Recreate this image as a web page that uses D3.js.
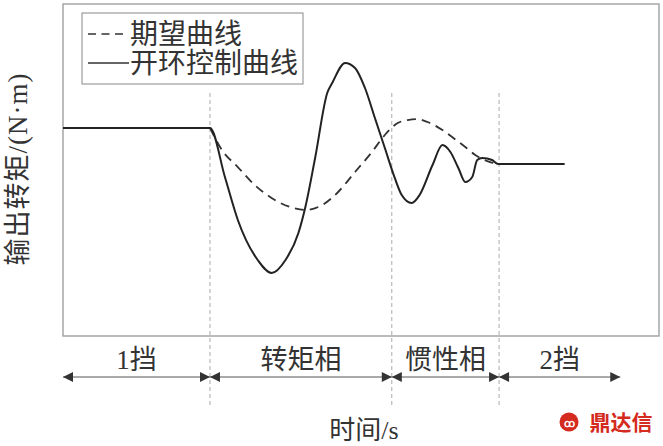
<!DOCTYPE html>
<html><head><meta charset="utf-8">
<script src="https://cdn.jsdelivr.net/npm/d3@7"></script>
<style>body{margin:0;background:#fff}svg{display:block}</style>
</head><body><svg id="c" width="663" height="446"></svg>
<script>
// ---- data (time in s, torque in N·m) ----
const controlT = [0, 1.48, 1.63, 1.76, 1.96, 2.10, 2.24, 2.37, 2.44, 2.54, 2.66, 2.71, 2.84, 2.94, 3.04, 3.14, 3.24, 3.34, 3.41, 3.51, 3.59, 3.72, 3.82, 3.90, 3.98, 4.05, 4.12, 4.17, 4.22, 4.32, 4.38, 5.05];
const controlV = [250.6, 250.6, 191.6, 139.8, 91.6, 75.9, 91.6, 124.1, 155.4, 215.7, 292.8, 304.8, 328.9, 322.9, 298.8, 262.7, 226.5, 190.4, 169.9, 160.2, 169.9, 206.0, 230.1, 221.7, 202.4, 185.5, 191.6, 212.0, 214.5, 212.0, 207.2, 207.2];
const desiredT = [1.48, 1.60, 1.76, 1.93, 2.10, 2.32, 2.44, 2.61, 2.77, 2.94, 3.11, 3.24, 3.37, 3.47, 3.56, 3.67, 3.82, 3.93, 4.05, 4.15, 4.20, 4.30, 4.38];
const desiredV = [250.6, 224.1, 203.6, 181.9, 166.3, 154.2, 151.8, 157.8, 173.5, 197.6, 221.7, 242.2, 256.6, 260.2, 261.4, 257.8, 248.2, 238.6, 227.7, 218.1, 214.5, 209.6, 207.2];
const phaseNames = ["1挡", "转矩相", "惯性相", "2挡"];
const phaseBounds = [0, 1.48, 3.31, 4.39, 5.61];
const legendLabels = ["期望曲线", "开环控制曲线"];
const xTitle = "时间/s";
const yTitle = "输出转矩/(N·m)";

const svg = d3.select("#c");
const font = "'Liberation Serif','Noto Sans CJK SC',serif";
const ink = "#333";
const x = d3.scaleLinear().domain([0, 6]).range([63, 659]);
const y = d3.scaleLinear().domain([0, 400]).range([336, 4]);

// frame
svg.append("rect").attr("x", x(0)).attr("y", y(400))
  .attr("width", x(6) - x(0)).attr("height", y(0) - y(400))
  .attr("fill", "none").attr("stroke", "#a0a0a0").attr("stroke-width", 1.4);

// phase boundary lines
svg.append("g").selectAll("line").data(phaseBounds.slice(1, 4)).join("line")
  .attr("x1", d => x(d)).attr("x2", d => x(d))
  .attr("y1", 93).attr("y2", 405)
  .attr("stroke", "#aaa").attr("stroke-width", 1).attr("stroke-dasharray", "4,3");

// curves
const line = d3.line().x(d => x(d[0])).y(d => y(d[1])).curve(d3.curveMonotoneX);
svg.append("path").datum(desiredT.map((t, i) => [t, desiredV[i]]))
  .attr("d", line).attr("fill", "none").attr("stroke", ink)
  .attr("stroke-width", 1.8).attr("stroke-dasharray", "9,6");
svg.append("path").datum(controlT.map((t, i) => [t, controlV[i]]))
  .attr("d", line).attr("fill", "none").attr("stroke", "#222")
  .attr("stroke-width", 2);

// legend
const lg = svg.append("g");
lg.append("rect").attr("x", 82).attr("y", 13).attr("width", 221).attr("height", 71)
  .attr("fill", "#fff").attr("stroke", "#888").attr("stroke-width", 1);
lg.append("line").attr("x1", 88).attr("x2", 127).attr("y1", 34).attr("y2", 34)
  .attr("stroke", ink).attr("stroke-width", 1.6).attr("stroke-dasharray", "8,5.5");
lg.append("line").attr("x1", 88).attr("x2", 129).attr("y1", 63).attr("y2", 63)
  .attr("stroke", ink).attr("stroke-width", 1.6);
lg.selectAll("text").data(legendLabels).join("text")
  .attr("x", 130).attr("y", (d, i) => 34 + i * 29)
  .attr("dominant-baseline", "central")
  .attr("font-family", font).attr("font-size", 28).attr("fill", ink)
  .text(d => d);

// phase arrows and labels
const ay = 377, ah = 10, aw = 5;
const pg = svg.append("g");
phaseNames.forEach((name, i) => {
  const a = x(phaseBounds[i]), b = x(phaseBounds[i + 1]);
  pg.append("line").attr("x1", a).attr("x2", b).attr("y1", ay).attr("y2", ay)
    .attr("stroke", "#555").attr("stroke-width", 1);
  pg.append("path").attr("d", `M${a},${ay}L${a + ah},${ay - aw}L${a + ah},${ay + aw}Z`).attr("fill", ink);
  pg.append("path").attr("d", `M${b},${ay}L${b - ah},${ay - aw}L${b - ah},${ay + aw}Z`).attr("fill", ink);
  pg.append("text").attr("x", (a + b) / 2).attr("y", 360)
    .attr("text-anchor", "middle").attr("dominant-baseline", "central")
    .attr("font-family", font).attr("font-size", 27).attr("fill", ink)
    .text(name);
});

// axis titles
svg.append("text").attr("x", (x(0) + x(6)) / 2 + 3).attr("y", 430)
  .attr("text-anchor", "middle").attr("dominant-baseline", "central")
  .attr("font-family", font).attr("font-size", 26).attr("fill", ink).text(xTitle);
svg.append("text").attr("transform", `translate(18,${(y(0) + y(400)) / 2 - 1}) rotate(-90)`)
  .attr("text-anchor", "middle").attr("dominant-baseline", "central")
  .attr("font-family", font).attr("font-size", 27).attr("letter-spacing", 1)
  .attr("fill", ink).text(yTitle);

// watermark
const wm = svg.append("g");
wm.append("circle").attr("cx", 569).attr("cy", 422).attr("r", 9.5).attr("fill", "#d42a20");
wm.append("text").attr("x", 569).attr("y", 422).attr("text-anchor", "middle")
  .attr("dominant-baseline", "central").attr("font-family", "'Noto Sans CJK SC'")
  .attr("font-size", 11).attr("font-weight", "bold").attr("fill", "#fff").text("ꝏ");
wm.append("text").attr("x", 621).attr("y", 421).attr("text-anchor", "middle")
  .attr("dominant-baseline", "central").attr("font-family", "'Noto Sans CJK SC'")
  .attr("font-size", 21).attr("font-weight", "bold").attr("fill", "#d42a20").text("鼎达信");
</script></body></html>
